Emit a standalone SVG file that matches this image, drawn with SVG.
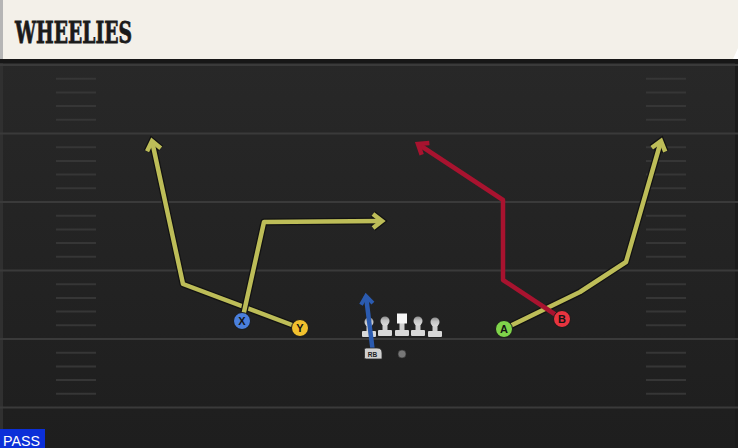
<svg xmlns="http://www.w3.org/2000/svg" width="738" height="448" viewBox="0 0 738 448">
<style>
.yard{stroke:#3a3a3a;stroke-width:2;fill:none}
.hash{stroke:#363636;stroke-width:2;fill:none}
.ol{fill:none;stroke:#121212;stroke-width:7;stroke-linejoin:round}
.rt{fill:none;stroke-width:4.5;stroke-linejoin:round}
.yel{stroke:#bdbd58}
.red{stroke:#a8132f}
.blu{stroke:#2b5bb0}
.lbl{font-family:"Liberation Sans",Arial,sans-serif;font-weight:bold;font-size:11px;fill:#141414;text-anchor:middle}
.pc{stroke:#1a1a1a;stroke-width:1}
</style>
<defs>
<linearGradient id="field" x1="0" y1="0" x2="0" y2="1">
<stop offset="0" stop-color="#282828"/>
<stop offset="1" stop-color="#1e1e1e"/>
</linearGradient>
<linearGradient id="lm" x1="0" y1="0" x2="0" y2="1">
<stop offset="0" stop-color="#8c8c8c"/>
<stop offset="0.45" stop-color="#c4c4c4"/>
<stop offset="1" stop-color="#dcdcdc"/>
</linearGradient>
<marker id="aOl" markerUnits="userSpaceOnUse" orient="auto" markerWidth="30" markerHeight="30" refX="0" refY="0" viewBox="-15 -15 30 30" overflow="visible">
<path d="M-9,-7 L0,0 L-9,7" fill="none" stroke="#121212" stroke-width="7" stroke-linejoin="miter"/>
</marker>
<marker id="aY" markerUnits="userSpaceOnUse" orient="auto" markerWidth="30" markerHeight="30" refX="0" refY="0" viewBox="-15 -15 30 30" overflow="visible">
<path d="M-9,-7 L0,0 L-9,7" fill="none" stroke="#bdbd58" stroke-width="4.5" stroke-linejoin="miter"/>
</marker>
<marker id="aR" markerUnits="userSpaceOnUse" orient="auto" markerWidth="30" markerHeight="30" refX="0" refY="0" viewBox="-15 -15 30 30" overflow="visible">
<path d="M-9,-7 L0,0 L-9,7" fill="none" stroke="#a8132f" stroke-width="4.5" stroke-linejoin="miter"/>
</marker>
<marker id="aB" markerUnits="userSpaceOnUse" orient="auto" markerWidth="30" markerHeight="30" refX="0" refY="0" viewBox="-15 -15 30 30" overflow="visible">
<path d="M-8,-6 L0,0 L-8,6" fill="none" stroke="#2b5bb0" stroke-width="4" stroke-linejoin="miter"/>
</marker>
<g id="lineman">
<rect x="-2.5" y="3" width="5" height="7" fill="#cfcfcf"/>
<rect x="-7" y="9" width="14" height="6" rx="1" fill="#d8d8d8"/>
<circle cx="0" cy="0" r="4.5" fill="url(#lm)"/>
</g>
</defs>

<!-- field -->
<rect x="0" y="59" width="738" height="389" fill="url(#field)"/>
<rect x="0" y="59" width="3" height="389" fill="#303030"/>
<rect x="735" y="59" width="3" height="389" fill="#1b1b1b"/>
<rect x="0" y="59" width="738" height="4" fill="#171717"/>

<g id="yardlines">
<line class="yard" x1="0" y1="65" x2="738" y2="65"/>
<line class="yard" x1="0" y1="133.5" x2="738" y2="133.5"/>
<line class="yard" x1="0" y1="202" x2="738" y2="202"/>
<line class="yard" x1="0" y1="270.5" x2="738" y2="270.5"/>
<line class="yard" x1="0" y1="339" x2="738" y2="339"/>
<line class="yard" x1="0" y1="407.5" x2="738" y2="407.5"/>
</g>
<g id="hashes">
<path class="hash" d="M56,78.7H96M56,92.4H96M56,106.1H96M56,119.8H96M56,147.2H96M56,160.9H96M56,174.6H96M56,188.3H96M56,215.7H96M56,229.4H96M56,243.1H96M56,256.8H96M56,284.2H96M56,297.9H96M56,311.6H96M56,325.3H96M56,352.7H96M56,366.4H96M56,380.1H96M56,393.8H96"/>
<path class="hash" d="M646,78.7H686M646,92.4H686M646,106.1H686M646,119.8H686M646,147.2H686M646,160.9H686M646,174.6H686M646,188.3H686M646,215.7H686M646,229.4H686M646,243.1H686M646,256.8H686M646,284.2H686M646,297.9H686M646,311.6H686M646,325.3H686M646,352.7H686M646,366.4H686M646,380.1H686M646,393.8H686"/>
</g>

<!-- header -->
<g id="header">
<path d="M0,0 H738 V48 L733,59 H0 Z" fill="#f3f0e9"/>
<rect x="0" y="0" width="3" height="59" fill="#b5b5b5"/>
<text x="15" y="43" font-family="'DejaVu Serif',serif" font-weight="bold" font-size="29" textLength="117" lengthAdjust="spacingAndGlyphs" fill="#1a1a1a" stroke="#1a1a1a" stroke-width="0.8">WHEELIES</text>
</g>

<!-- offensive line -->
<g id="oline">
<use href="#lineman" x="369" y="322"/>
<use href="#lineman" x="385" y="321"/>
<g>
<rect x="399.5" y="323" width="5" height="8" fill="#cfcfcf"/>
<rect x="395" y="330" width="14" height="6" rx="1" fill="#d8d8d8"/>
<rect x="397" y="313.5" width="10" height="10" fill="#f6f6f6"/>
</g>
<use href="#lineman" x="418" y="321"/>
<use href="#lineman" x="435" y="322"/>
</g>

<!-- connectors / routes -->
<g id="routes">
<path class="ol" d="M300,328 L183,284 L152,141" marker-end="url(#aOl)"/>
<path class="rt yel" d="M300,328 L183,284 L152,141" marker-end="url(#aY)"/>
<path class="ol" d="M242,321 L264,222 L382,221" marker-end="url(#aOl)"/>
<path class="rt yel" d="M242,321 L264,222 L382,221" marker-end="url(#aY)"/>
<path class="ol" d="M504,329 L580,292 L626,262 L661,141" marker-end="url(#aOl)"/>
<path class="rt yel" d="M504,329 L580,292 L626,262 L661,141" marker-end="url(#aY)"/>
<path class="rt red" d="M562,319 L503,280 L503,200 L418,144" stroke-width="5" marker-end="url(#aR)"/>
<path class="rt blu" d="M373,353 L366,296" stroke-width="4" marker-end="url(#aB)"/>
</g>

<!-- players -->
<g id="player-X"><circle class="pc" cx="242" cy="321" r="8.5" fill="#4a7fdc"/><text class="lbl" x="242" y="325">X</text></g>
<g id="player-Y"><circle class="pc" cx="300" cy="328" r="8.5" fill="#f2c12e"/><text class="lbl" x="300" y="332">Y</text></g>
<g id="player-A"><circle class="pc" cx="504" cy="329" r="8.5" fill="#7fd44a"/><text class="lbl" x="504" y="333">A</text></g>
<g id="player-B"><circle class="pc" cx="562" cy="319" r="8.5" fill="#e8343f"/><text class="lbl" x="562" y="323">B</text></g>
<g id="player-RB">
<path d="M366,348 H377 Q382,348 382,353 V359 H366 Q364.5,359 364.5,357.5 V349.5 Q364.5,348 366,348 Z" fill="#d0d0d0" stroke="#2a2a2a" stroke-width="0.8"/>
<text x="372.5" y="356.5" font-family="'Liberation Sans',Arial,sans-serif" font-weight="bold" font-size="6.5" fill="#222" text-anchor="middle">RB</text>
</g>
<g id="player-QB"><circle cx="402" cy="354" r="4" fill="#777" stroke="#333" stroke-width="0.6"/></g>

<!-- pass tag -->
<g id="pass-tag">
<rect x="0" y="429" width="45" height="19" fill="#0b2fd8"/>
<text x="3" y="446" font-family="'Liberation Sans',Arial,sans-serif" font-size="15" textLength="37" lengthAdjust="spacingAndGlyphs" fill="#ffffff">PASS</text>
</g>
</svg>
